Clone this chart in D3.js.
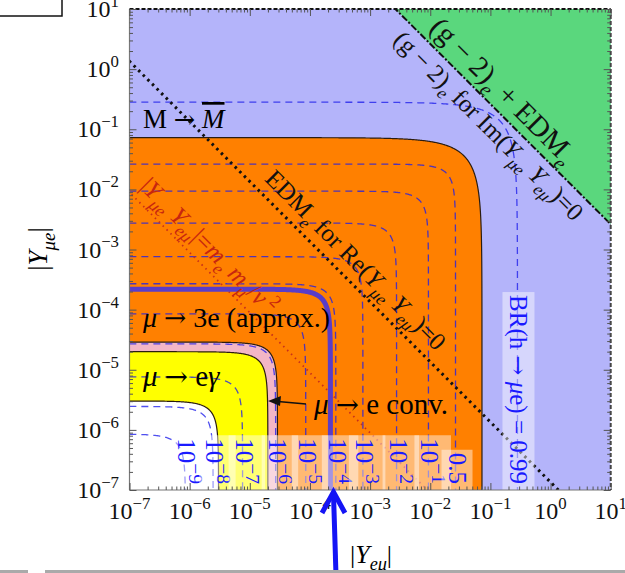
<!DOCTYPE html>
<html><head><meta charset="utf-8">
<script src="https://cdn.jsdelivr.net/npm/d3@7"></script>
<style>
body{margin:0;background:#fff;overflow:hidden;}
svg{display:block;font-family:"Liberation Serif","DejaVu Serif",serif;}
</style></head><body>
<div id="chart"></div>
<script>
// decade exponents on both axes
const tickExps = [-7, -6, -5, -4, -3, -2, -1, 0, 1];

// excluded / allowed regions: log10 of the bound on |Y|, and the norm of the shape
const regionNames = ["orange", "pink", "yellow", "white"];
const regionLogR = [-1.14, -4.54, -4.70, -5.52];
const regionNorm = [1, 2, 2, 2];
const regionColors = ["#ff8000", "#f3b6c6", "#ffff00", "#ffffff"];

// mu -> 3e (approx.) bound
const mu3eLogR = -3.66;

// BR(h -> mu e) contours
const brLabels = ["10^-9", "10^-8", "10^-7", "10^-6", "10^-5", "10^-4", "10^-3", "10^-2", "10^-1", "0.5", "0.99"];
const brLogR = [-6.07, -5.61, -5.12, -4.57, -4.07, -3.57, -3.12, -2.56, -2.03, -1.58, -0.55];
const brNorm = [2, 2, 2, 2, 2, 2, 2, 2, 2, 2, 1];

// diagonal lines: log10 |Y_mue Y_emu|
const g2LogProd = -1.58;
const edmLogProd = -6.87;
const memuLogProd = -9.05;

const W = 625, H = 573;
const svg = d3.select("#chart").append("svg").attr("width", W).attr("height", H);

const x = d3.scaleLog().domain([1e-7, 10]).range([129.5, 610.7]);
const y = d3.scaleLog().domain([1e-7, 10]).range([490, 9]);
const P = v => Math.pow(10, v);
const line = d3.line().x(d => x(P(d[0]))).y(d => y(P(d[1])));

// boundary |x|^p + |y|^p = R^p, walked in log space
function bound(lR, p) {
  const lm = lR - Math.log10(2) / p;
  const pts = [];
  d3.range(-8, lm, 0.01).forEach(lx => {
    pts.push([lx, lR + Math.log10(1 - P(p * (lx - lR))) / p]);
  });
  d3.range(lm, -8, -0.01).forEach(ly => {
    pts.push([lR + Math.log10(1 - P(p * (ly - lR))) / p, ly]);
  });
  return pts;
}

svg.append("defs").append("clipPath").attr("id", "plot").append("rect")
  .attr("x", x(1e-7)).attr("y", y(10))
  .attr("width", x(10) - x(1e-7)).attr("height", y(1e-7) - y(10));

const plot = svg.append("g").attr("clip-path", "url(#plot)");

plot.append("rect")
  .attr("x", x(1e-7)).attr("y", y(10))
  .attr("width", x(10) - x(1e-7)).attr("height", y(1e-7) - y(10))
  .attr("fill", "#b4b4fa");

regionLogR.forEach((r, i) => {
  plot.append("path")
    .attr("d", line(bound(r, regionNorm[i]).concat([[-8, -8]])) + "Z")
    .attr("fill", regionColors[i]);
});

// (g-2)_e + EDM_e excluded corner
plot.append("path")
  .attr("d", line([[g2LogProd - 1.5, 1.5], [1.5, 1.5], [1.5, g2LogProd - 1.5]]) + "Z")
  .attr("fill", "#5ad77d");

// BR contours
brLogR.forEach((r, i) => {
  plot.append("path")
    .attr("d", line(bound(r, brNorm[i])))
    .attr("fill", "none")
    .attr("stroke", "rgba(30,30,235,0.78)")
    .attr("stroke-width", 1.3)
    .attr("stroke-dasharray", "7,5");
});

// black region edges
regionLogR.forEach((r, i) => {
  plot.append("path")
    .attr("d", line(bound(r, regionNorm[i])))
    .attr("fill", "none")
    .attr("stroke", "#2a1c10")
    .attr("stroke-width", 1.2);
});

// g-2 boundary
plot.append("path")
  .attr("d", line([[g2LogProd - 1.5, 1.5], [1.5, g2LogProd - 1.5]]))
  .attr("stroke", "#111").attr("stroke-width", 2)
  .attr("stroke-dasharray", "7,2,2,2").attr("fill", "none");

// EDM line
plot.append("path")
  .attr("d", line([[-8, edmLogProd + 8], [edmLogProd + 8, -8]]))
  .attr("stroke", "#111").attr("stroke-width", 3)
  .attr("stroke-dasharray", "2.5,4").attr("fill", "none");

// |Y Y| = me mmu / v^2
plot.append("path")
  .attr("d", line([[-8, memuLogProd + 8], [memuLogProd + 8, -8]]))
  .attr("stroke", "#c8301a").attr("stroke-width", 1.8)
  .attr("stroke-dasharray", "1.5,4").attr("fill", "none");

// mu -> 3e thick line
plot.append("path")
  .attr("d", line(bound(mu3eLogR, 2)))
  .attr("fill", "none")
  .attr("stroke", "#5a3dc8")
  .attr("stroke-width", 5);

function rich(t, parts, fs, supScale) {
  let shift = 0;
  const ss = supScale || 0.7;
  parts.forEach(([s, k]) => {
    const tags = (k || "").split(" ");
    const target = tags.includes("sub") ? 0.28 * fs : tags.includes("sup") ? -0.42 * fs : 0;
    const ts = t.append("tspan").text(s).attr("dy", target - shift);
    shift = target;
    if (tags.includes("sub") || tags.includes("sup")) ts.attr("font-size", ss * fs);
    if (tags.includes("i")) ts.attr("font-style", "italic");
    if (tags.includes("bar")) ts.style("text-decoration", "overline");
    if (tags.includes("arr")) ts.attr("font-family", "DejaVu Serif").attr("font-size", 0.95 * fs);
  });
}

function labelParts(s) {
  if (s.startsWith("10^")) return [["10", ""], [s.slice(3).replace("-", "\u2212"), "sup"]];
  return [[s, ""]];
}

// contour labels along the bottom
const labG = plot.append("g");
brLabels.forEach((s, i) => {
  const cx = x(P(brLogR[i]));
  const g = labG.append("g").attr("transform", `translate(${cx},484) rotate(90)`);
  const box = g.append("rect");
  const fs = 25;
  const t = g.append("text").attr("font-size", fs).attr("fill", "#1a1aff")
    .attr("text-anchor", "end").attr("x", 0).attr("y", 7);
  if (i === brLabels.length - 1) {
    rich(t, [["BR(h ", ""], ["\u2192", "arr"], [" ", ""], ["\u03bc", "i"], ["e) = 0.99", ""]], 25);
  } else {
    rich(t, labelParts(s), fs, 0.78);
  }
  const b = t.node().getBBox();
  box.attr("x", b.x - 3).attr("y", b.y - 2)
    .attr("width", b.width + 12).attr("height", b.height + 4)
    .attr("fill", "rgba(255,255,255,0.45)");
});

// annotations
const ann = svg.append("g").attr("clip-path", "url(#plot)");

let t = ann.append("text").attr("x", 143).attr("y", 128).attr("font-size", 27);
rich(t, [["M ", ""], ["\u2192", "arr"], [" ", ""], ["M", "i bar"]], 27);

t = ann.append("text").attr("x", 143).attr("y", 327).attr("font-size", 28);
rich(t, [["\u03bc", "i"], [" ", ""], ["\u2192", "arr"], [" 3e (approx.)", ""]], 28);

t = ann.append("text").attr("x", 143).attr("y", 386).attr("font-size", 29);
rich(t, [["\u03bc", "i"], [" ", ""], ["\u2192", "arr"], [" e", ""], ["\u03b3", "i"]], 29);

t = ann.append("text").attr("x", 314).attr("y", 414).attr("font-size", 29);
rich(t, [["\u03bc", "i"], [" ", ""], ["\u2192", "arr"], [" e conv.", ""]], 29);

ann.append("line").attr("x1", 306).attr("y1", 404).attr("x2", 278).attr("y2", 401.5)
  .attr("stroke", "#111").attr("stroke-width", 1.5);
ann.append("path").attr("d", "M268,401 L281,396 L280,406 Z").attr("fill", "#111");

function rotText(px, lp, d, fs, fill, parts) {
  const lx = Math.log10(x.invert(px));
  const py = y(P(lp - lx));
  const s = Math.SQRT1_2;
  const g = ann.append("g")
    .attr("transform", `translate(${px + s * d},${py - s * d}) rotate(45)`);
  const tt = g.append("text").attr("font-size", fs).attr("fill", fill);
  rich(tt, parts, fs);
}

rotText(422, g2LogProd, 9, 29, "#111",
  [["(g \u2212 2)", ""], ["e", "sub i"], [" + EDM", ""], ["e", "sub i"]]);
rotText(410, g2LogProd, -25, 25, "#111",
  [["(g \u2212 2)", ""], ["e", "sub i"], [" for Im(", ""], ["Y", "i"], ["\u03bce", "sub i"],
   [" ", ""], ["Y", "i"], ["e\u03bc", "sub i"], [")=0", ""]]);
rotText(256, edmLogProd, 11, 25, "#111",
  [["EDM", ""], ["e", "sub i"], [" for Re(", ""], ["Y", "i"], ["\u03bce", "sub i"],
   [" ", ""], ["Y", "i"], ["e\u03bc", "sub i"], [")=0", ""]]);
rotText(132, memuLogProd, 10, 25, "#c8260e",
  [["|", ""], ["Y", "i"], ["\u03bce", "sub i"], [" ", ""], ["Y", "i"], ["e\u03bc", "sub i"],
   ["|=", ""], ["m", "i"], ["e", "sub i"], [" ", ""], ["m", "i"], ["\u03bc", "sub i"],
   ["/", ""], ["v", "i"], [" 2", "sup"]]);

// frame and ticks
const fr = svg.append("g");
fr.append("line").attr("x1", x(1e-7)).attr("x2", x(1e-7)).attr("y1", y(10)).attr("y2", y(1e-7))
  .attr("stroke", "#777").attr("stroke-width", 1.2);
fr.append("line").attr("x1", x(1e-7)).attr("x2", x(10)).attr("y1", y(1e-7)).attr("y2", y(1e-7))
  .attr("stroke", "#777").attr("stroke-width", 1.2);
fr.append("line").attr("x1", x(1e-7)).attr("x2", x(10)).attr("y1", y(10)).attr("y2", y(10))
  .attr("stroke", "#111").attr("stroke-width", 2).attr("stroke-dasharray", "4,2");
fr.append("line").attr("x1", x(10)).attr("x2", x(10)).attr("y1", y(10)).attr("y2", y(1e-7))
  .attr("stroke", "#444").attr("stroke-width", 2).attr("stroke-dasharray", "4,2");

const majors = tickExps.map(P);
const minors = [];
tickExps.slice(0, -1).forEach(e => d3.range(2, 10).forEach(m => minors.push(m * P(e))));

function ticks(axis, tr, vals, len) {
  fr.append("g").attr("transform", tr)
    .call(axis.tickValues(vals).tickSize(-len).tickFormat(""))
    .call(g => g.select(".domain").remove())
    .call(g => g.selectAll("line").attr("stroke", "#555").attr("stroke-width", 1));
}
ticks(d3.axisBottom(x), `translate(0,${y(1e-7)})`, majors, 7);
ticks(d3.axisBottom(x), `translate(0,${y(1e-7)})`, minors, 3.5);
ticks(d3.axisTop(x), `translate(0,${y(10)})`, majors, 7);
ticks(d3.axisTop(x), `translate(0,${y(10)})`, minors, 3.5);
ticks(d3.axisLeft(y), `translate(${x(1e-7)},0)`, majors, 7);
ticks(d3.axisLeft(y), `translate(${x(1e-7)},0)`, minors, 3.5);
ticks(d3.axisRight(y), `translate(${x(10)},0)`, majors, 7);
ticks(d3.axisRight(y), `translate(${x(10)},0)`, minors, 3.5);

const tl = svg.append("g").attr("fill", "#111");
tickExps.forEach(e => {
  const lab = [["10", ""], [String(e).replace("-", "\u2212"), "sup"]];
  let tx = tl.append("text").attr("x", x(P(e))).attr("y", 519)
    .attr("text-anchor", "middle").attr("font-size", 24);
  rich(tx, lab, 24);
  let ty = tl.append("text").attr("x", 119).attr("y", y(P(e)) + 8)
    .attr("text-anchor", "end").attr("font-size", 24);
  rich(ty, lab, 24);
});

// axis titles
t = svg.append("text").attr("transform", "translate(47,249) rotate(-90)")
  .attr("text-anchor", "middle").attr("font-size", 27);
rich(t, [["|", ""], ["Y", "i"], ["\u03bce", "sub i"], ["|", ""]], 27);
t = svg.append("text").attr("x", 371).attr("y", 563)
  .attr("text-anchor", "middle").attr("font-size", 26);
rich(t, [["|", ""], ["Y", "i"], ["e\u03bc", "sub i"], ["|", ""]], 26);

// blue pointer arrow
svg.append("path").attr("d", "M336,575 L333.5,494")
  .attr("stroke", "#1414f5").attr("stroke-width", 5).attr("fill", "none");
svg.append("path").attr("d", "M322,513 L333.5,492 L345,513")
  .attr("stroke", "#1414f5").attr("stroke-width", 5).attr("fill", "none")
  .attr("stroke-linejoin", "miter");

// stray page bits
svg.append("rect").attr("x", -1).attr("y", -1).attr("width", 63).attr("height", 17)
  .attr("fill", "#fff").attr("stroke", "#111").attr("stroke-width", 1.5);
svg.append("rect").attr("x", 0).attr("y", 570).attr("width", 28).attr("height", 3).attr("fill", "#aaa");
svg.append("rect").attr("x", 45).attr("y", 570).attr("width", 580).attr("height", 3).attr("fill", "#aaa");
</script>
</body></html>
